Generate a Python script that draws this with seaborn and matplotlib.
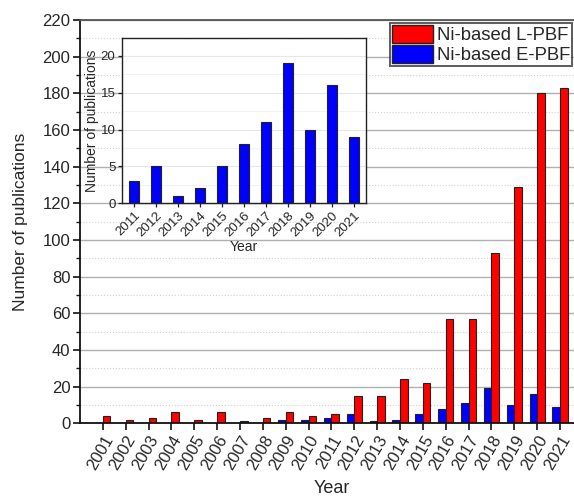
import numpy as np
import pandas as pd
import matplotlib
matplotlib.use('Agg')
import matplotlib.pyplot as plt
import seaborn as sns
from matplotlib.patches import Patch
from matplotlib.ticker import MultipleLocator

# data
years = [str(y) for y in range(2001, 2022)]
l_pbf = [4, 2, 3, 6, 2, 6, 1, 3, 6, 4, 5, 15, 15, 24, 22, 57, 57, 93, 129, 180, 183]
e_pbf = [0, 0, 0, 0, 0, 0, 0, 0, 2, 2, 3, 5, 1, 2, 5, 8, 11, 19, 10, 16, 9]
inset_years = years[10:]
inset_e_pbf = e_pbf[10:]

lab_l = 'Ni-based L-PBF'
lab_e = 'Ni-based E-PBF'

sns.set_style('white')
plt.rcParams['font.family'] = ['Liberation Sans', 'DejaVu Sans']

df = pd.DataFrame({
    'Year': years * 2,
    'n': e_pbf + l_pbf,
    'type': [lab_e] * len(years) + [lab_l] * len(years),
})

fig = plt.figure(figsize=(5.74, 4.98), dpi=100)
ax = fig.add_axes([0.1394, 0.150, 0.876, 0.810])

sns.barplot(data=df, x='Year', y='n', hue='type', hue_order=[lab_e, lab_l],
            palette=['#0000ff', '#ff0000'], width=0.66, gap=0,
            edgecolor='#222222', linewidth=0.8, saturation=1, ax=ax, legend=False)
# hide empty bars (no outline line at zero)
for p in ax.patches:
    if p.get_height() == 0:
        p.set_visible(False)

ax.set_xlim(-1, 21)
ax.set_ylim(0, 220)
ax.yaxis.set_major_locator(MultipleLocator(20))
ax.yaxis.set_minor_locator(MultipleLocator(10))
ax.grid(which='major', axis='y', color='#b0b0b0', lw=1.0, ls='-')
ax.grid(which='minor', axis='y', color='#d0d0d0', lw=0.8, ls=':')
ax.set_axisbelow(True)
for s in ['left', 'bottom']:
    ax.spines[s].set_color('#111111')
    ax.spines[s].set_linewidth(1.3)
ax.spines['top'].set_color('#555555')
ax.spines['top'].set_linewidth(1.3)
ax.spines['right'].set_visible(False)
ax.tick_params(axis='both', which='major', direction='out', length=5, width=1.2,
               labelsize=12, color='#111111', left=True, bottom=True, pad=2)
ax.tick_params(axis='y', which='minor', direction='out', length=3, width=1.0,
               color='#111111', left=True)
plt.setp(ax.get_xticklabels(), rotation=60, ha='right', rotation_mode='anchor')
ax.set_xlabel('Year', fontsize=13, labelpad=5)
ax.set_ylabel('Number of publications', fontsize=12.5, labelpad=10)

handles = [Patch(facecolor='#ff0000', edgecolor='#222222', label=lab_l),
           Patch(facecolor='#0000ff', edgecolor='#222222', label=lab_e)]
leg = fig.legend(handles=handles, loc='upper left', bbox_to_anchor=(0.679, 0.954),
                 fontsize=13.3, frameon=True, fancybox=False, handlelength=2.25,
                 handleheight=1.12, labelspacing=0.06, borderpad=0.1,
                 handletextpad=0.2, borderaxespad=0)
leg.get_frame().set_edgecolor('#333333')
leg.get_frame().set_linewidth(1.4)

# inset with E-PBF only
axi = fig.add_axes([0.212, 0.592, 0.4256, 0.3325])
axi.set_facecolor('white')
sns.barplot(x=inset_years, y=inset_e_pbf, color='#0000ff', width=0.42,
            edgecolor='#222222', linewidth=0.8, saturation=1, ax=axi)
axi.set_xlim(-0.56, 10.55)
axi.set_ylim(0, 22.5)
axi.yaxis.set_major_locator(MultipleLocator(5))
axi.yaxis.set_minor_locator(MultipleLocator(2.5))
axi.grid(which='major', axis='y', color='#e6e6e6', lw=0.8)
axi.grid(which='minor', axis='y', color='#f0f0f0', lw=0.6)
axi.set_axisbelow(True)
for s in axi.spines.values():
    s.set_color('#222222')
    s.set_linewidth(1.0)
axi.tick_params(axis='both', which='major', direction='out', length=3, width=0.9,
                labelsize=9.5, color='#222222', left=True, bottom=True, pad=1.5)
plt.setp(axi.get_xticklabels(), rotation=45, ha='right', rotation_mode='anchor')
axi.set_xlabel('Year', fontsize=10, labelpad=1)
axi.set_ylabel('Number of publications', fontsize=10, labelpad=1)

fig.savefig('out.png', dpi=100)
